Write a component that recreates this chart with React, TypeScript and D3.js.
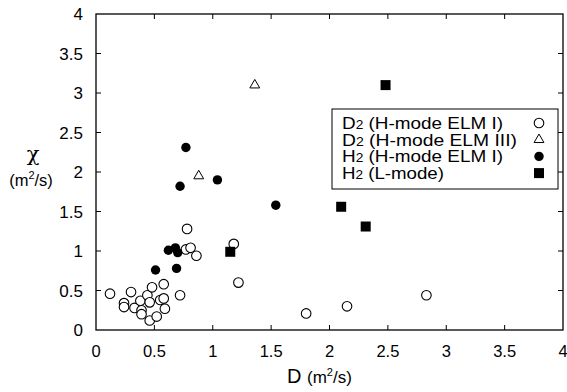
import React from "react";
import * as d3 from "d3";

const width = 567;
const height = 392;
const margin = { top: 14, right: 4, bottom: 62, left: 96 };

// D2 (H-mode ELM I) - open circles
const d2ElmI: [number, number][] = [
  [0.12, 0.46], [0.3, 0.48], [0.24, 0.34], [0.24, 0.29], [0.33, 0.28],
  [0.38, 0.37], [0.39, 0.25], [0.39, 0.2], [0.46, 0.12], [0.44, 0.44],
  [0.48, 0.54], [0.46, 0.35], [0.52, 0.17], [0.55, 0.38], [0.58, 0.58],
  [0.58, 0.4], [0.59, 0.27], [0.72, 0.44], [0.77, 1.02], [0.81, 1.04],
  [0.86, 0.94], [0.78, 1.28], [1.18, 1.09], [1.22, 0.6], [1.8, 0.21],
  [2.15, 0.3], [2.83, 0.44],
];
// D2 (H-mode ELM III) - open triangles
const d2ElmIII: [number, number][] = [
  [1.36, 3.1], [0.88, 1.95],
];
// H2 (H-mode ELM I) - filled circles
const h2ElmI: [number, number][] = [
  [0.62, 1.01], [0.68, 1.04], [0.7, 0.98], [0.51, 0.76], [0.69, 0.78],
  [0.77, 2.31], [0.72, 1.82], [1.04, 1.9], [1.54, 1.58],
];
// H2 (L-mode) - filled squares
const h2Lmode: [number, number][] = [
  [2.48, 3.1], [2.1, 1.56], [2.31, 1.31], [1.15, 0.99],
];

const ticks = [0, 0.5, 1, 1.5, 2, 2.5, 3, 3.5, 4];
const tickLabels = ["0", "0.5", "1", "1.5", "2", "2.5", "3", "3.5", "4"];

const legendItems = [
  { sym: "D", tail: " (H-mode ELM I)", marker: "circle", len: 161 },
  { sym: "D", tail: " (H-mode ELM III)", marker: "triangle", len: 175 },
  { sym: "H", tail: " (H-mode ELM I)", marker: "dot", len: 161 },
  { sym: "H", tail: " (L-mode)", marker: "square", len: 102 },
];

const font = "'Liberation Sans', Arial, Helvetica, sans-serif";

function Marker({ kind, x, y }: { kind: string; x: number; y: number }) {
  if (kind === "circle")
    return <circle cx={x} cy={y} r={4.8} fill="white" stroke="black" strokeWidth={1.1} />;
  if (kind === "dot") return <circle cx={x} cy={y} r={4.7} fill="black" />;
  if (kind === "square")
    return <rect x={x - 5} y={y - 5} width={10} height={10} fill="black" />;
  const tri = d3.symbol(d3.symbolTriangle, 42)();
  return (
    <path
      d={tri || ""}
      transform={`translate(${x},${y})`}
      fill="white"
      stroke="black"
      strokeWidth={1}
    />
  );
}

export default function App() {
  const x = d3
    .scaleLinear()
    .domain([0, 4])
    .range([margin.left, width - margin.right]);
  const y = d3
    .scaleLinear()
    .domain([0, 4])
    .range([height - margin.bottom, margin.top]);

  const [x0, x1] = x.range();
  const [y0, y1] = y.range();
  const tl = 5;

  return (
    <svg
      width={width}
      height={height}
      style={{ position: "absolute", left: 0, top: 0, background: "white" }}
      fontFamily={font}
    >
      {/* frame */}
      <rect x={x0} y={y1} width={x1 - x0} height={y0 - y1} fill="none" stroke="black" strokeWidth={1.3} />

      {/* ticks, all inward */}
      {ticks.map((t, i) => (
        <g key={"t" + i} stroke="black" strokeWidth={1}>
          {i > 0 && i < ticks.length - 1 && (
            <>
              <line x1={x(t)} x2={x(t)} y1={y0} y2={y0 - tl} />
              <line x1={x(t)} x2={x(t)} y1={y1} y2={y1 + tl} />
              <line x1={x0} x2={x0 + tl} y1={y(t)} y2={y(t)} />
              <line x1={x1} x2={x1 - tl} y1={y(t)} y2={y(t)} />
            </>
          )}
        </g>
      ))}

      {/* tick labels */}
      {ticks.map((t, i) => (
        <text key={"xl" + i} x={x(t)} y={y0 + 27} textAnchor="middle" fontSize={16.5}>
          {tickLabels[i]}
        </text>
      ))}
      {ticks.map((t, i) => (
        <text key={"yl" + i} x={x0 - 13} y={y(t)} dy="0.36em" textAnchor="end" fontSize={17}>
          {tickLabels[i]}
        </text>
      ))}

      {/* axis titles */}
      <text x={33} y={161} textAnchor="middle" fontSize={21} fontFamily="'DejaVu Serif', serif">
        χ
      </text>
      <text x={31} y={186} textAnchor="middle" fontSize={16.5}>
        (m<tspan dy={-7} fontSize={11}>2</tspan>
        <tspan dy={7}>/s)</tspan>
      </text>
      <text x={287} y={383} fontSize={20}>
        D
      </text>
      <text x={307} y={383} fontSize={17}>
        (m<tspan dy={-7} fontSize={11}>2</tspan>
        <tspan dy={7}>/s)</tspan>
      </text>

      {/* data */}
      {d2ElmI.map((d, i) => (
        <Marker key={"a" + i} kind="circle" x={x(d[0])} y={y(d[1])} />
      ))}
      {d2ElmIII.map((d, i) => (
        <Marker key={"b" + i} kind="triangle" x={x(d[0])} y={y(d[1])} />
      ))}
      {h2ElmI.map((d, i) => (
        <Marker key={"c" + i} kind="dot" x={x(d[0])} y={y(d[1])} />
      ))}
      {h2Lmode.map((d, i) => (
        <Marker key={"d" + i} kind="square" x={x(d[0])} y={y(d[1])} />
      ))}

      {/* legend */}
      <rect x={332} y={109} width={226} height={80} fill="white" stroke="black" strokeWidth={1} />
      {legendItems.map((it, i) => {
        const cy = 123 + i * 16.7;
        return (
          <g key={"lg" + i}>
            <text x={342} y={cy} dy="0.36em" fontSize={16.5} textLength={it.len} lengthAdjust="spacingAndGlyphs">
              {it.sym}
              <tspan fontSize={12}>2</tspan>
              {it.tail}
            </text>
            <Marker kind={it.marker} x={539} y={cy} />
          </g>
        );
      })}
    </svg>
  );
}
